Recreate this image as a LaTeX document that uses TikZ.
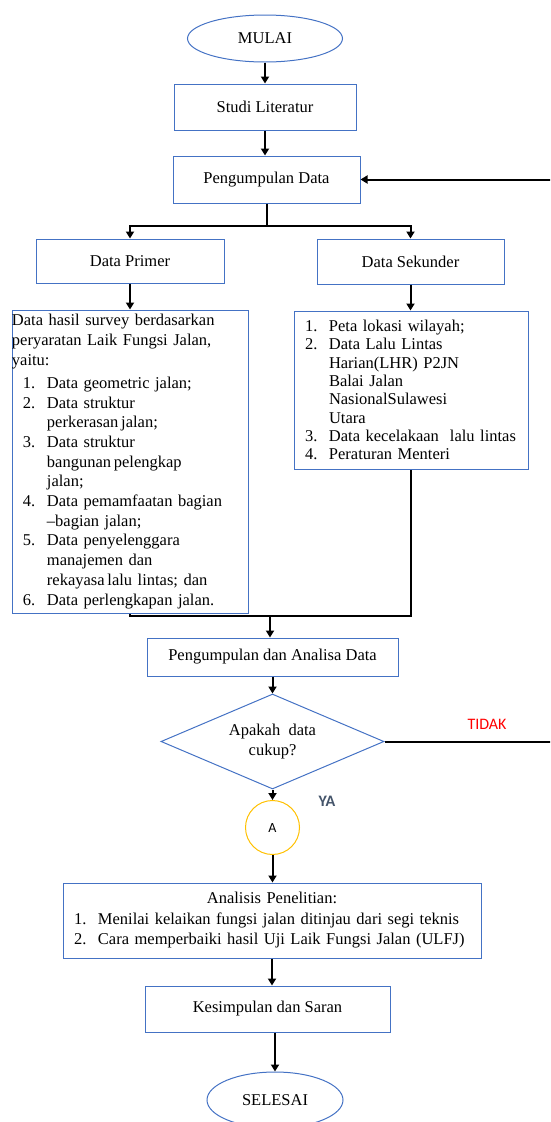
\documentclass[tikz,border=0pt]{standalone}
\usepackage{fontspec}
\setmainfont{Liberation Serif}
\newfontfamily\calibri{Carlito}
\usepackage{tikz}
\usetikzlibrary{arrows.meta}
\usetikzlibrary{shapes.geometric}
\definecolor{kotakbiru}{RGB}{68,114,196}
\definecolor{kuning}{RGB}{255,192,0}
\definecolor{abubiru}{RGB}{68,84,106}
\definecolor{merah}{RGB}{255,0,0}
\newcommand{\butir}[2]{\hspace*{11pt}\makebox[24pt][l]{#1}#2}
\newcommand{\lanjut}[1]{\hspace*{35pt}#1}

\begin{document}
\begin{tikzpicture}[x=1pt,y=-1pt,font=\fontsize{16.5}{19.7}\selectfont,
  kotak/.style={draw=kotakbiru,line width=1pt,rectangle,inner sep=0pt},
  oval/.style={draw=kotakbiru,line width=1pt,ellipse,inner sep=0pt},
  alur/.style={line width=2pt,-{Triangle[length=7pt,width=8pt]}},
  garis/.style={line width=2pt,line join=miter}]
\useasboundingbox (0,0) rectangle (550,1122);
\clip (0,0) rectangle (550,1122);
\node[oval,minimum width=155pt,minimum height=47pt] (mulai) at (265,38.5) {MULAI};
\node[kotak,minimum width=182pt,minimum height=46pt] (studi) at (265,107) {Studi Literatur};
\node[kotak,minimum width=187pt,minimum height=47pt] (kumpul) at (266.5,179.5) {Pengumpulan Data};
\node[kotak,minimum width=188pt,minimum height=44pt] (primer) at (130,261) {Data Primer};
\node[kotak,minimum width=187pt,minimum height=45pt] (sekunder) at (410.5,261.5) {Data Sekunder};
\node[kotak,minimum width=236pt,minimum height=303pt,text width=236pt,align=left] (isiprimer) at (130,461.5) {Data hasil survey berdasarkan\\
peryaratan Laik Fungsi Jalan,\\
yaitu:\\[3.5pt]
\butir{1.}{Data geometric jalan;}\\
\butir{2.}{Data struktur}\\
\lanjut{perkerasan\,jalan;}\\
\butir{3.}{Data struktur}\\
\lanjut{bangunan\,pelengkap}\\
\lanjut{jalan;}\\
\butir{4.}{Data pemamfaatan bagian}\\
\lanjut{--bagian jalan;}\\
\butir{5.}{Data penyelenggara}\\
\lanjut{manajemen dan}\\
\lanjut{rekayasa\,lalu lintas; dan}\\
\butir{6.}{Data perlengkapan jalan.}};
\node[kotak,minimum width=234pt,minimum height=158pt,text width=234pt,align=left,font=\fontsize{16.5}{18.3}\selectfont] (isisekunder) at (411,390) {\butir{1.}{Peta lokasi wilayah;}\\
\butir{2.}{Data Lalu Lintas}\\
\lanjut{Harian(LHR) P2JN}\\
\lanjut{Balai Jalan}\\
\lanjut{NasionalSulawesi}\\
\lanjut{Utara}\\
\butir{3.}{Data kecelakaan\ \ lalu lintas}\\
\butir{4.}{Peraturan Menteri}};
\node[kotak,minimum width=251pt,minimum height=38pt] (analisa) at (272.5,657) {Pengumpulan dan Analisa Data};
\node[draw=kotakbiru,line width=1pt,diamond,aspect=2.35,minimum width=223pt,minimum height=95pt,inner sep=0pt,align=center] (cek) at (272.5,741.5) {Apakah\ \ data\\cukup?};
\node[draw=kuning,line width=1pt,circle,minimum size=54pt,inner sep=0pt,font=\calibri\fontsize{14}{16}\selectfont] (konA) at (272.5,827.5) {A};
\node[kotak,minimum width=418pt,minimum height=75pt,text width=418pt,align=left,font=\fontsize{16.5}{20.5}\selectfont] (penelitian) at (272,920.5) {\makebox[418pt]{Analisis Penelitian:}\\
\butir{1.}{Menilai kelaikan fungsi jalan ditinjau dari segi teknis}\\
\butir{2.}{Cara memperbaiki hasil Uji Laik Fungsi Jalan (ULFJ)}};
\node[kotak,minimum width=245pt,minimum height=46pt] (simpul) at (267.5,1009) {Kesimpulan dan Saran};
\node[oval,minimum width=136pt,minimum height=56pt] (selesai) at (275,1100) {SELESAI};
\node[text=merah,font=\calibri\fontsize{16}{18}\selectfont] (tidak) at (487,724) {TIDAK};
\node[text=abubiru,font=\calibri\bfseries\fontsize{16}{18}\selectfont] (ya) at (327,801) {YA};
\coordinate (cabang) at (267,226);
\coordinate (gabung) at (270,616);
\coordinate (balik) at (560,741.5);
\draw[alur] (mulai) -- (studi);
\draw[alur] (studi) -- (studi |- kumpul.north);
\draw[garis] (kumpul) -- (kumpul |- cabang);
\draw[alur] (cabang) -| (primer);
\draw[alur] (cabang) -| (sekunder);
\draw[alur] (primer) -- (isiprimer);
\draw[alur] (sekunder) -- (sekunder |- isisekunder.north);
\draw[garis] (isiprimer.south) |- (gabung) -| (isisekunder.south);
\draw[alur] (gabung) -- (gabung |- analisa.north);
\draw[alur] (analisa) -- (cek);
\draw[alur] (cek) -- (konA);
\draw[alur] (konA) -- (konA |- penelitian.north);
\draw[alur] (penelitian) -- (penelitian |- simpul.north);
\draw[alur] (simpul.south -| selesai) -- (selesai);
\draw[alur] (cek.east) -- (balik) |- (kumpul.east);
\end{tikzpicture}
\end{document}
